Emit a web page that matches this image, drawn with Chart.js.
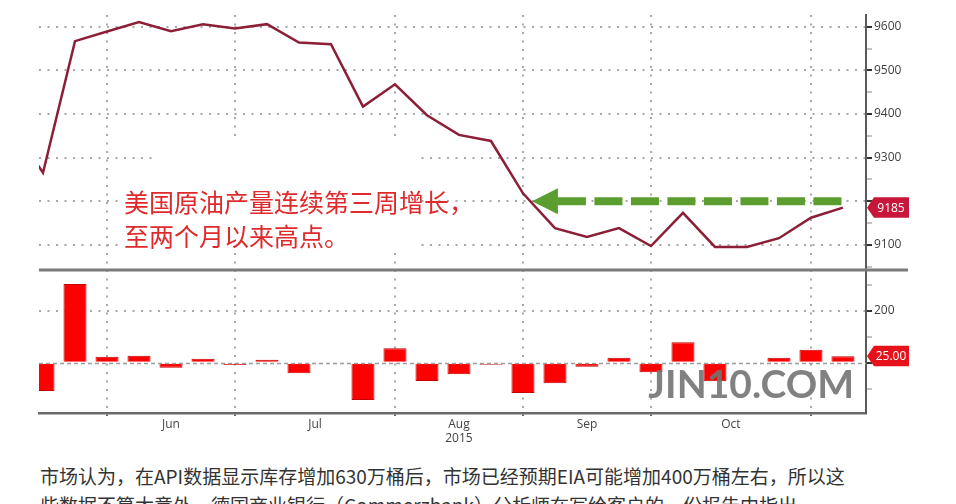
<!DOCTYPE html>
<html>
<head>
<meta charset="utf-8">
<script src="https://cdn.jsdelivr.net/npm/chart.js@4/dist/chart.umd.min.js"></script>
<style>
body{margin:0;background:#fff;}
#wrap{position:relative;width:956px;height:504px;overflow:hidden;background:#fff;}
canvas{position:absolute;left:0;}
.txt{position:absolute;left:40px;white-space:nowrap;font-family:"Noto Sans CJK SC";font-size:19px;line-height:29px;color:#333;}
</style>
</head>
<body>
<div id="wrap">
<canvas id="graficoProd" width="956" height="270" style="top:0"></canvas>
<canvas id="graficoCambio" width="956" height="183" style="top:262px"></canvas>
<div class="txt" style="top:461px">市场认为，在API数据显示库存增加630万桶后，市场已经预期EIA可能增加400万桶左右，所以这</div>
<div class="txt" style="top:490px">些数据不算太意外，德国商业银行（Commerzbank）分析师在写给客户的一份报告中指出</div>
</div>
<script>
/* DATOS */

const weeks = ["2015-05-15","2015-05-22","2015-05-29","2015-06-05","2015-06-12","2015-06-19","2015-06-26",
"2015-07-03","2015-07-10","2015-07-17","2015-07-24","2015-07-31","2015-08-07","2015-08-14","2015-08-21",
"2015-08-28","2015-09-04","2015-09-11","2015-09-18","2015-09-25","2015-10-02","2015-10-09","2015-10-16",
"2015-10-23","2015-10-30","2015-11-06","2015-11-13"];

// weekly US crude production (thousand bpd)
const production = [9374,9265,9567,9589,9611,9590,9606,9596,9606,9564,9560,9417,9468,9397,9352,
9338,9218,9138,9118,9138,9097,9173,9095,9095,9115,9162,9185];

// weekly change
const changes = [null,-109,304,23,27,-19,15,-9,12,-41,-4,-144,56,-70,-44,
-8,-117,-79,-15,19,-37,79,-71,0,19,50,25];

const monthLabels = ["Jun","Jul","Aug","Sep","Oct"];
const yearLabel = "2015";

const prodTicks = [9100,9200,9300,9400,9500,9600];
const prodMinor = [9050,9150,9250,9350,9450,9550];
const changeTicks = [0,200];
const changeMinor = [-100,100,300];

const noteLines = ["美国原油产量连续第三周增长，","至两个月以来高点。"];

/* EJES */

const monthStarts = [];
weeks.forEach(function(d,i){
  if(i > 0 && d.slice(5,7) !== weeks[i-1].slice(5,7)) monthStarts.push(i);
});
const monthMids = monthLabels.map(function(m,i){ return (monthStarts[i] + monthStarts[i+1]) / 2; });

const lastProd = production[production.length-1];
const lastChange = changes[changes.length-1];

const X_MIN = 0.875, X_MAX = 26.72;
const DOT = [2,6.5];
const GRID = "#a8a8a8";
const FONT = {family:"Open Sans", size:12};

function isStart(v){ return monthStarts.indexOf(v) >= 0; }

function fixY(scale){
  scale.width = 90;
  scale.paddingTop = 0; scale.paddingBottom = 0;
}

document.addEventListener("DOMContentLoaded", function(){

Chart.defaults.animation = false;
Chart.defaults.font.family = "Open Sans";

/* GRAFICO DE PRODUCCION */

const prodExtras = {
  id: "prodExtras",
  beforeDatasetsDraw(chart){
    const ctx = chart.ctx;
    // white box behind the note
    ctx.save();
    ctx.fillStyle = "#fff";
    ctx.fillRect(153,140,265,45);
    ctx.fillRect(123,185,295,67);
    ctx.restore();
  },
  afterDatasetsDraw(chart){
    const ctx = chart.ctx, xs = chart.scales.x, ys = chart.scales.y;
    ctx.save();
    // note
    ctx.font = '25px "Noto Sans CJK SC"';
    ctx.fillStyle = "#e0292b";
    ctx.textBaseline = "middle";
    ctx.fillText(noteLines[0], 124, 202);
    ctx.fillText(noteLines[1], 124, 236);
    // green arrow
    const y = ys.getPixelForValue(9200);
    const tip = xs.getPixelForValue(16.28);
    const end = xs.getPixelForValue(26.06);
    ctx.fillStyle = "#5b9e2f";
    ctx.beginPath();
    ctx.moveTo(tip, y);
    ctx.lineTo(tip + 26, y - 13);
    ctx.lineTo(tip + 26, y + 13);
    ctx.closePath();
    ctx.fill();
    ctx.strokeStyle = "#5b9e2f";
    ctx.lineWidth = 8;
    ctx.setLineDash([28,8.5]);
    ctx.beginPath();
    ctx.moveTo(tip + 26, y);
    ctx.lineTo(end, y);
    ctx.stroke();
    ctx.restore();
  },
  afterDraw(chart){
    const ys = chart.scales.y;
    drawTag(chart.ctx, chart.chartArea.right + 1, ys.getPixelForValue(lastProd), String(lastProd), "#c8163a");
  }
};

function drawTag(ctx, x, y, text, color){
  ctx.save();
  ctx.fillStyle = color;
  ctx.beginPath();
  ctx.moveTo(x, y);
  ctx.lineTo(x + 7, y - 10.5);
  ctx.lineTo(x + 42, y - 10.5);
  ctx.lineTo(x + 42, y + 10);
  ctx.lineTo(x + 7, y + 10);
  ctx.closePath();
  ctx.fill();
  ctx.fillStyle = "#fff";
  ctx.font = '12px "Open Sans"';
  ctx.textAlign = "center";
  ctx.textBaseline = "middle";
  ctx.fillText(text, x + 24, y + 0.5);
  ctx.restore();
}

new Chart(document.getElementById("graficoProd"),{
  type:"line",
  data:{
    datasets:[{
      data: production.map(function(v,i){ return {x:i, y:v}; }),
      borderColor:"#8c1f35",
      borderWidth:2.5,
      pointRadius:0,
      tension:0,
      clip:0
    }]
  },
  options:{
    responsive:false,
    layout:{autoPadding:false, padding:{left:39, top:15, right:0, bottom:0}},
    plugins:{legend:{display:false}, tooltip:{enabled:false}},
    scales:{
      x:{
        type:"linear", min:X_MIN, max:X_MAX,
        afterBuildTicks:function(s){ s.ticks = monthStarts.map(function(v){ return {value:v}; }); },
        afterFit:function(s){ s.height = 0; s.paddingLeft = 0; s.paddingRight = 0; },
        ticks:{display:false},
        grid:{color:GRID, lineWidth:2, drawTicks:false, offset:false},
        border:{display:false, dash:function(c){ return c.type === "tick" ? DOT : []; }}
      },
      y:{
        position:"right", min:9042, max:9627,
        afterBuildTicks:function(s){
          s.ticks = prodMinor.concat(prodTicks).sort(function(a,b){return a-b;}).map(function(v){ return {value:v}; });
        },
        afterFit:fixY,
        ticks:{
          font:FONT, color:"#3f3f3f", padding:2,
          // label hidden under the last-value tag
          callback:function(v){ return prodTicks.indexOf(v) >= 0 && Math.abs(v - lastProd) > 30 ? String(v) : ""; }
        },
        grid:{
          color:function(c){ return prodTicks.indexOf(c.tick && c.tick.value) >= 0 ? GRID : "transparent"; },
          lineWidth:2,
          tickColor:function(c){ return prodTicks.indexOf(c.tick && c.tick.value) >= 0 ? "#333" : "#888"; },
          tickWidth:function(c){ return prodTicks.indexOf(c.tick && c.tick.value) >= 0 ? 2 : 1; },
          tickLength:6
        },
        border:{display:true, color:"#5a5a5a", width:2, dash:function(c){ return c.type === "tick" ? DOT : []; }}
      }
    }
  },
  plugins:[prodExtras]
});

/* GRAFICO DE BARRAS */

const changeExtras = {
  id:"changeExtras",
  afterDatasetsDraw(chart){
    const ctx = chart.ctx, a = chart.chartArea, ys = chart.scales.y;
    ctx.save();
    // zero line
    const y0 = Math.round(ys.getPixelForValue(0)) + 0.5;
    ctx.strokeStyle = "#9d9d9d";
    ctx.lineWidth = 1.5;
    ctx.setLineDash([4,3]);
    ctx.beginPath();
    ctx.moveTo(a.left, y0);
    ctx.lineTo(a.right, y0);
    ctx.stroke();
    ctx.setLineDash([]);
    // watermark
    ctx.font = 'bold 39px Lato';
    ctx.fillStyle = "rgba(115,115,115,0.9)";
    ctx.textAlign = "right";
    ctx.textBaseline = "alphabetic";
    ctx.fillText("JIN10.COM", a.right - 12, a.bottom - 15);
    ctx.restore();
  },
  afterDraw(chart){
    const ctx = chart.ctx, a = chart.chartArea, ys = chart.scales.y;
    // separator between panels
    ctx.save();
    ctx.strokeStyle = "#7b7b7b";
    ctx.lineWidth = 3;
    ctx.beginPath();
    ctx.moveTo(a.left, a.top);
    ctx.lineTo(a.right + 42, a.top);
    ctx.stroke();
    ctx.restore();
    drawTag(ctx, a.right + 1, ys.getPixelForValue(lastChange), lastChange.toFixed(2), "#e5121b");
  }
};

const xTicks = monthStarts.concat(monthMids).sort(function(a,b){return a-b;});

new Chart(document.getElementById("graficoCambio"),{
  type:"bar",
  data:{
    datasets:[{
      data: changes.map(function(v,i){ return {x:i, y:v}; }),
      backgroundColor:"#ff0000",
      borderColor:"#c40000",
      borderWidth:1,
      categoryPercentage:0.8,
      barPercentage:0.9,
      clip:0
    }]
  },
  options:{
    responsive:false,
    layout:{autoPadding:false, padding:{left:39, top:8, right:0, bottom:0}},
    plugins:{legend:{display:false}, tooltip:{enabled:false}},
    scales:{
      x:{
        type:"linear", min:X_MIN, max:X_MAX, offset:false,
        afterBuildTicks:function(s){ s.ticks = xTicks.map(function(v){ return {value:v}; }); },
        afterFit:function(s){ s.height = 32; s.paddingLeft = 0; s.paddingRight = 0; },
        ticks:{
          autoSkip:false, maxRotation:0, font:FONT, color:"#444", padding:1,
          callback:function(v){
            const k = monthMids.indexOf(v);
            if(k < 0) return "";
            return k === 2 ? [monthLabels[k], yearLabel] : monthLabels[k];
          }
        },
        grid:{
          offset:false,
          color:function(c){ return isStart(c.tick && c.tick.value) ? GRID : "transparent"; },
          lineWidth:2,
          tickColor:function(c){ return isStart(c.tick && c.tick.value) ? "#333" : "transparent"; },
          tickLength:3, tickWidth:1.5
        },
        border:{display:true, color:"#6a6a6a", width:2.5, dash:function(c){ return c.type === "tick" ? DOT : []; }}
      },
      y:{
        position:"right", min:-194, max:358,
        afterBuildTicks:function(s){
          s.ticks = changeMinor.concat(changeTicks).sort(function(a,b){return a-b;}).map(function(v){ return {value:v}; });
        },
        afterFit:fixY,
        ticks:{
          font:FONT, color:"#3f3f3f", padding:2,
          callback:function(v){ return changeTicks.indexOf(v) >= 0 ? String(v) : ""; }
        },
        grid:{
          color:function(c){ return (c.tick && c.tick.value === 200) ? GRID : "transparent"; },
          lineWidth:2,
          tickColor:function(c){ return changeTicks.indexOf(c.tick && c.tick.value) >= 0 ? "#333" : "#888"; },
          tickWidth:function(c){ return changeTicks.indexOf(c.tick && c.tick.value) >= 0 ? 2 : 1; },
          tickLength:6
        },
        border:{display:true, color:"#5a5a5a", width:2, dash:function(c){ return c.type === "tick" ? DOT : []; }}
      }
    }
  },
  plugins:[changeExtras]
});

});
</script>
</body>
</html>
